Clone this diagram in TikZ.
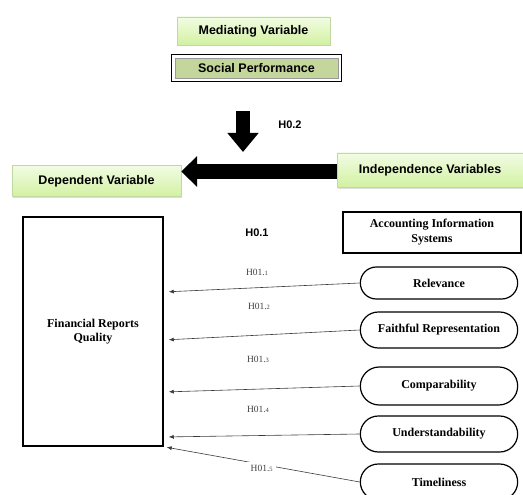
\documentclass[tikz,border=0pt]{standalone}
\usepackage{fontspec}
\setmainfont{Liberation Serif}
\setsansfont{Liberation Sans}
\usepackage{tikz}
\usetikzlibrary{shapes.misc, arrows.meta, positioning, calc, fit, shadows}
\definecolor{gtop}{HTML}{F2FCE4}
\definecolor{gbot}{HTML}{D2F1A2}
\definecolor{gborder}{HTML}{C2D8A2}
\definecolor{olivefill}{HTML}{C4D69B}
\definecolor{linkgray}{HTML}{3A3A3A}
\definecolor{labelgray}{HTML}{404040}
\newcommand{\hsub}[1]{H01.{\fontsize{6.5}{7}\selectfont #1}}

\begin{document}
\begin{tikzpicture}[
    x=1pt, y=1pt,
    greenbox/.style={rectangle, draw=gborder, top color=gtop, bottom color=gbot, drop shadow={shadow xshift=1pt, shadow yshift=-1.5pt, opacity=0.25}, font=\sffamily\bfseries\fontsize{12.5}{14}\selectfont},
    pill/.style={rounded rectangle, draw=black, line width=1.2pt, minimum width=164pt, minimum height=#1, font=\bfseries\fontsize{12}{14}\selectfont},
    hlabel/.style={font=\fontsize{9.5}{11}\selectfont, text=labelgray},
    hbold/.style={font=\sffamily\bfseries\fontsize{11}{12}\selectfont},
    link/.style={-{Latex[length=5pt, width=4pt]}, line width=0.6pt, color=linkgray, shorten >=5pt},
    bigarrow/.style={-{Triangle[length=#1, width=30pt]}, color=black}
]
\useasboundingbox (0,0) rectangle (523,-495);

% Mediating variable
\node[greenbox, minimum width=153pt, minimum height=28pt] (med) at (253.5,-31) {Mediating Variable};
\node[rectangle, draw=black!40, fill=olivefill, minimum width=163pt, minimum height=20pt, font=\sffamily\bfseries\fontsize{12.5}{14}\selectfont] (social) at (256.5,-68) {Social Performance};
\node[rectangle, draw=black, line width=1pt, fit=(social), inner xsep=3pt, inner ysep=3pt] (socialframe) {};

\coordinate (modtop) at (243,-111);
\coordinate (modtip) at (243,-152);
\draw[bigarrow=19pt, line width=14pt] (modtop) -- (modtip);
\node[hbold] (h02) at (290,-125) {H0.2};

% Independent -> dependent
\node[greenbox, minimum width=169pt, minimum height=31pt] (dep) at (96.5,-181) {Dependent Variable};
\node[greenbox, minimum width=186pt, minimum height=34pt] (indep) at (430,-170) {Independence Variables};
\draw[bigarrow=16pt, line width=15pt] ([yshift=-1.5pt]indep.west) -- ([yshift=-1.5pt]indep.west -| dep.east);

% Dimensions
\node[hbold] (h01) at (257,-233) {H0.1};
\node[rectangle, draw=black, line width=1.2pt, minimum width=178pt, minimum height=41pt, align=center, font=\bfseries\fontsize{12}{15}\selectfont] (ais) at (432,-232.5) {Accounting Information\\Systems};
\node[rectangle, draw=black, line width=1.5pt, minimum width=140pt, minimum height=229pt, align=center, font=\bfseries\fontsize{12}{14}\selectfont] (frq) at (93,-331.5) {Financial Reports\\Quality};

\node[pill=32pt] (rel) at (439,-283) {Relevance};
\node[pill=36pt] (faith) at (439,-330) {Faithful Representation};
\node[pill=38pt] (comp) at (439,-386) {Comparability};
\node[pill=36pt] (under) at (439,-434) {Understandability};
\node[pill=36pt] (time) at (439,-482) {Timeliness};

\draw[link] (rel.west) -- ([yshift=39.5pt]frq.east);
\draw[link] (faith.west) -- ([yshift=-8.5pt]frq.east);
\draw[link] (comp.west) -- ([yshift=-60.5pt]frq.east);
\draw[link] (under.west) -- ([yshift=-105.5pt]frq.east);
\draw[link, shorten >=3pt] (time.west) -- node[hlabel, fill=white, yshift=-4pt] (h015) {\hsub{5}} (frq.south east);

% Labels
\node[hlabel] (h011) at (257,-272) {\hsub{1}};
\node[hlabel] (h012) at (259,-306) {\hsub{2}};
\node[hlabel] (h013) at (258,-359) {\hsub{3}};
\node[hlabel] (h014) at (258,-409) {\hsub{4}};

\end{tikzpicture}
\end{document}
